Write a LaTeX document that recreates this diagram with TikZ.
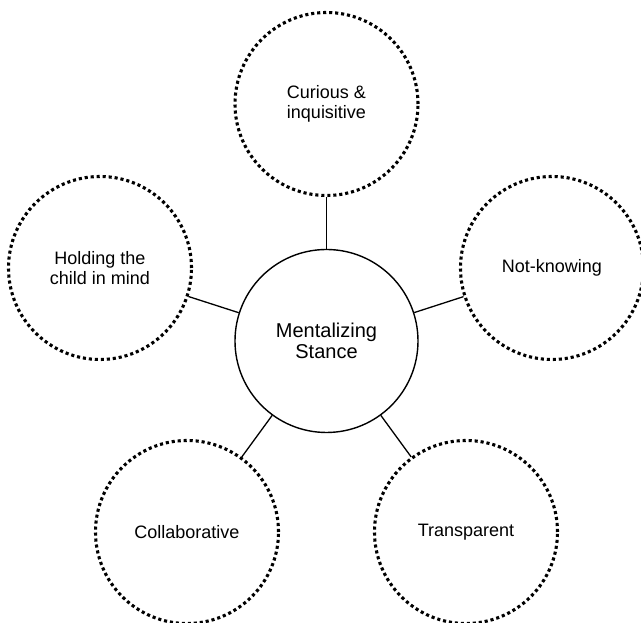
\documentclass[tikz,border=0pt]{standalone}
\usepackage{fontspec}
\setmainfont{Liberation Sans}
\begin{document}
\begin{tikzpicture}[x=1pt,y=1pt,
  hub/.style={circle,draw=black,line width=1.4pt,minimum size=183pt,inner sep=0pt,align=center,font=\fontsize{20}{21}\selectfont},
  spoke/.style={circle,draw=black,line width=3.1pt,dash pattern=on 3.1pt off 2.9pt,minimum size=183pt,inner sep=0pt,align=center,font=\fontsize{18}{19.5}\selectfont},
  link/.style={draw=black,line width=1.3pt}]
\useasboundingbox (0,0) rectangle (641,623);
\node[hub] (C) at (326.5,282) {Mentalizing\\Stance};
\node[spoke] (T) at (326.5,519) {Curious \&\\inquisitive};
\node[spoke] (H) at (100,355) {Holding the\\child in mind};
\node[spoke] (N) at (552,355) {Not-knowing};
\node[spoke] (L) at (187,91) {Collaborative};
\node[spoke] (R) at (466,91) {Transparent};
\draw[link] (C) -- (T);
\draw[link] (C) -- (H);
\draw[link] (C) -- (N);
\draw[link] (C) -- (L);
\draw[link] (C) -- (R);
\end{tikzpicture}
\end{document}
